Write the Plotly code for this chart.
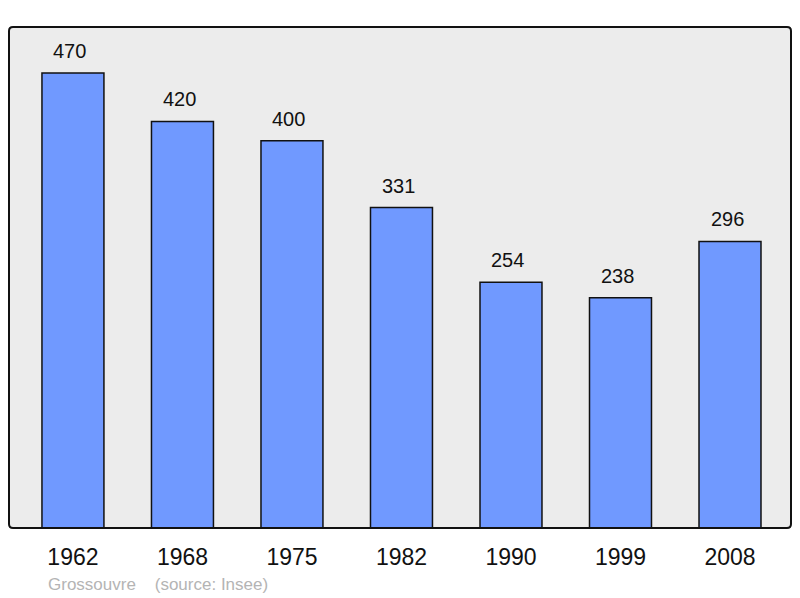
import plotly.graph_objects as go

years = ["1962", "1968", "1975", "1982", "1990", "1999", "2008"]
population = [470, 420, 400, 331, 254, 238, 296]
commune = "Grossouvre"
source = "(source: Insee)"

FONT = "Liberation Sans, Arial, sans-serif"

fig = go.Figure()
fig.add_trace(go.Bar(
    x=years, y=population,
    width=0.566,
    marker=dict(color="#7099ff", line=dict(color="#111111", width=1.5)),
    hoverinfo="skip",
))

annotations = []
for i, v in enumerate(population):
    annotations.append(dict(x=i, y=v, text=str(v), showarrow=False,
                            xref="x", yref="y", yanchor="bottom", yshift=9, xshift=-3,
                            font=dict(family=FONT, size=20, color="#111111")))
annotations.append(dict(x=0.047, y=-0.112, xref="paper", yref="paper",
                        xanchor="left", yanchor="middle", showarrow=False,
                        text=commune + "\u00a0\u00a0\u00a0\u00a0" + source,
                        font=dict(family=FONT, size=17, color="#b4b4b4")))

# rounded frame around plot area (paper coordinates)
rx, ry = 4 / 782, 4 / 501
frame = (f"M {rx},0 L {1-rx},0 Q 1,0 1,{ry} L 1,{1-ry} Q 1,1 {1-rx},1 "
         f"L {rx},1 Q 0,1 0,{1-ry} L 0,{ry} Q 0,0 {rx},0 Z")

# page body has an 8px margin, so the figure is sized to fit the 800x598 window
fig.update_layout(
    width=792, height=590,
    margin=dict(l=1, r=9, t=19, b=70),
    paper_bgcolor="white",
    plot_bgcolor="#ececec",
    showlegend=False,
    annotations=annotations,
    shapes=[dict(type="path", xref="paper", yref="paper", path=frame,
                 line=dict(color="#111111", width=2), layer="above")],
    xaxis=dict(type="category", range=[-0.584, 6.557], showgrid=False, zeroline=False,
               ticks="outside", ticklen=8, tickcolor="rgba(0,0,0,0)",
               tickfont=dict(family=FONT, size=23, color="#111111"),
               showline=False, fixedrange=True),
    yaxis=dict(range=[0, 517.6], showgrid=False, zeroline=False, showticklabels=False,
               showline=False, fixedrange=True),
)

fig.write_html("out.html")
